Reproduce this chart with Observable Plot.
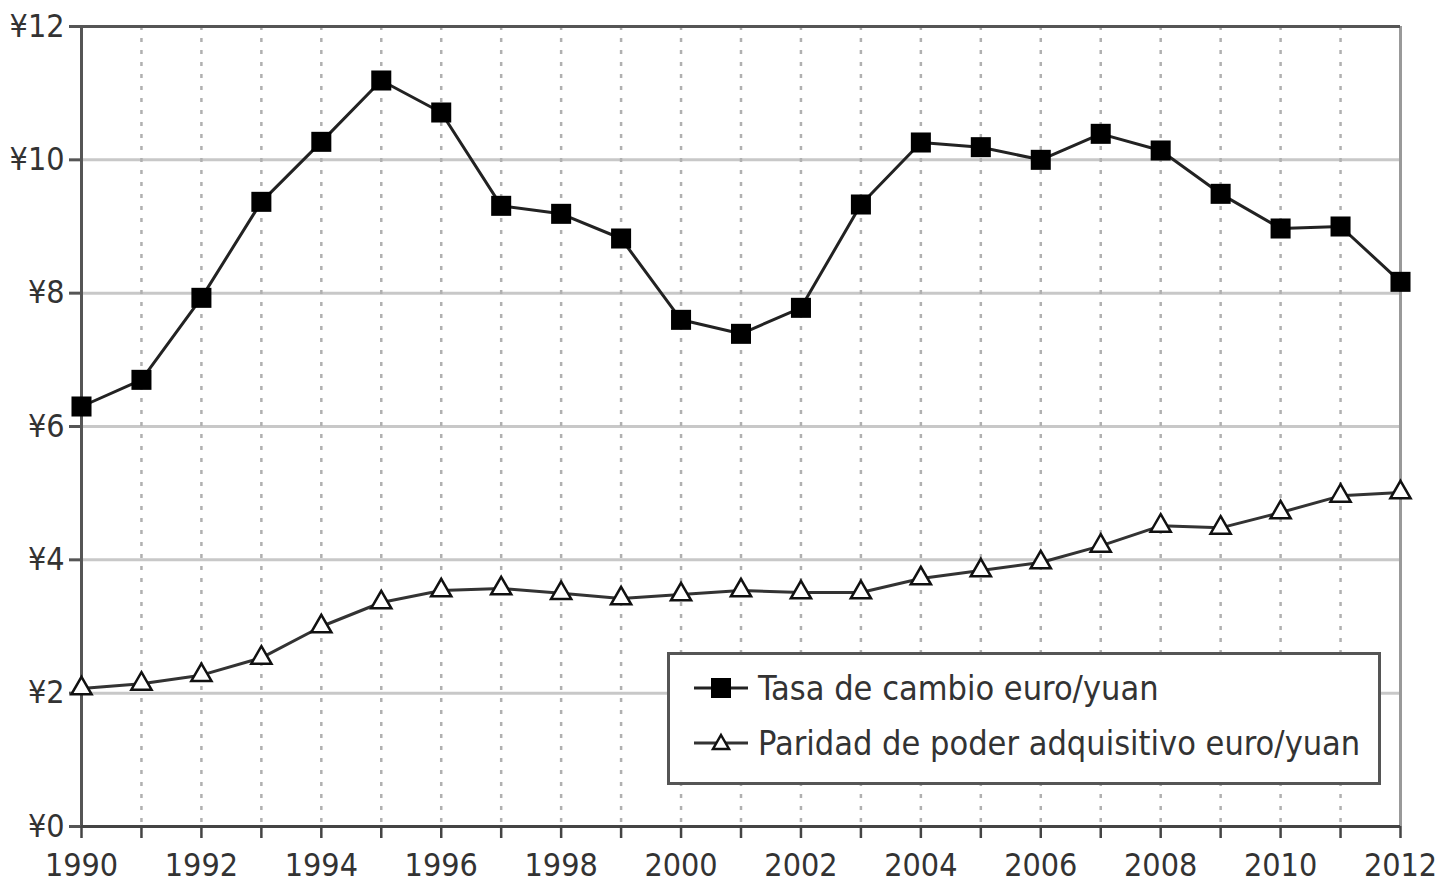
<!DOCTYPE html>
<html>
<head>
<meta charset="utf-8">
<script src="https://cdn.jsdelivr.net/npm/d3@7"></script>
<script src="https://cdn.jsdelivr.net/npm/@observablehq/plot@0.6"></script>
<style>
  html, body { margin: 0; padding: 0; background: #fff; }
  #wrap { position: relative; width: 1437px; height: 886px; }
  #legend {
    position: absolute; left: 667px; top: 652px; width: 708px; height: 127px;
    border: 3px solid #555; background: #fff; box-sizing: content-box;
    font-family: "DejaVu Sans Condensed", "Liberation Sans Narrow", sans-serif;
    font-size: 34px; color: #333;
  }
  .row { position: absolute; left: 0; height: 40px; display: flex; align-items: center; }
  .row svg { margin-left: 24px; margin-right: 10px; }
</style>
</head>
<body>
<div id="wrap"></div>
<script>
const years = [1990,1991,1992,1993,1994,1995,1996,1997,1998,1999,2000,2001,2002,2003,2004,2005,2006,2007,2008,2009,2010,2011,2012];
const tasaCambio = [6.30,6.70,7.93,9.37,10.27,11.19,10.71,9.31,9.19,8.82,7.60,7.39,7.78,9.33,10.26,10.19,10.00,10.39,10.14,9.49,8.97,9.00,8.17];
const paridadPoder = [2.07,2.14,2.27,2.53,3.00,3.36,3.54,3.57,3.50,3.42,3.48,3.54,3.51,3.51,3.72,3.84,3.96,4.21,4.51,4.48,4.71,4.96,5.01];
const yTicks = [0,2,4,6,8,10,12];
const xLabelYears = [1990,1992,1994,1996,1998,2000,2002,2004,2006,2008,2010,2012];
const seriesNames = ["Tasa de cambio euro/yuan", "Paridad de poder adquisitivo euro/yuan"];

const tasaData = years.map((y, i) => ({year: y, value: tasaCambio[i]}));
const pppData = years.map((y, i) => ({year: y, value: paridadPoder[i]}));
const innerYears = years.slice(1, -1);
const innerY = yTicks.slice(1, -1);

const font = '"DejaVu Sans Condensed", "Liberation Sans Narrow", sans-serif';

const chart = Plot.plot({
  width: 1437,
  height: 886,
  marginLeft: 81,
  marginRight: 37,
  marginTop: 26,
  marginBottom: 60,
  style: {fontFamily: font, fontSize: "32px", color: "#333", background: "#fff"},
  x: {domain: [1990, 2012]},
  y: {domain: [0, 12]},
  marks: [
    Plot.ruleY(innerY, {stroke: "#c8c8c8", strokeWidth: 3}),
    Plot.ruleX(innerYears, {stroke: "#b0b0b0", strokeWidth: 2.5, strokeDasharray: "4,8"}),
    Plot.ruleX([2012], {stroke: "#999", strokeWidth: 3}),
    Plot.ruleY([12], {stroke: "#555", strokeWidth: 3}),
    Plot.ruleX([1990], {stroke: "#555", strokeWidth: 3}),
    Plot.ruleY([0], {stroke: "#444", strokeWidth: 3}),
    Plot.axisY({ticks: yTicks, tickFormat: d => "¥" + d, tickSize: 12, tickPadding: 5, stroke: "#555", strokeWidth: 3, label: null, fill: "#333"}),
    Plot.axisX({ticks: years, tickFormat: () => "", tickSize: 12, stroke: "#444", strokeWidth: 2.5, label: null}),
    Plot.axisX({ticks: xLabelYears, tickFormat: d => String(d), tickSize: 0, tickPadding: 27, label: null, fill: "#333"}),
    Plot.line(pppData, {x: "year", y: "value", stroke: "#333", strokeWidth: 3}),
    Plot.dot(pppData, {x: "year", y: "value", symbol: "triangle", r: 7.5, fill: "#fff", stroke: "#111", strokeWidth: 2.5}),
    Plot.line(tasaData, {x: "year", y: "value", stroke: "#222", strokeWidth: 3}),
    Plot.dot(tasaData, {x: "year", y: "value", symbol: "square", r: 11.3, fill: "#000", stroke: "none"})
  ]
});
const wrap = document.getElementById("wrap");
wrap.appendChild(chart);

const legend = document.createElement("div");
legend.id = "legend";
legend.innerHTML = `
  <div class="row" style="top:13px">
    <svg width="54" height="24"><line x1="0" y1="12" x2="54" y2="12" stroke="#222" stroke-width="3"/><rect x="17" y="2" width="20" height="20" fill="#000"/></svg>
    <span>${seriesNames[0]}</span>
  </div>
  <div class="row" style="top:68px">
    <svg width="54" height="24"><line x1="0" y1="12" x2="54" y2="12" stroke="#333" stroke-width="3"/><path d="M27,4 L35,18 L19,18 Z" fill="#fff" stroke="#111" stroke-width="2.5"/></svg>
    <span>${seriesNames[1]}</span>
  </div>`;
wrap.appendChild(legend);
</script>
</body>
</html>
